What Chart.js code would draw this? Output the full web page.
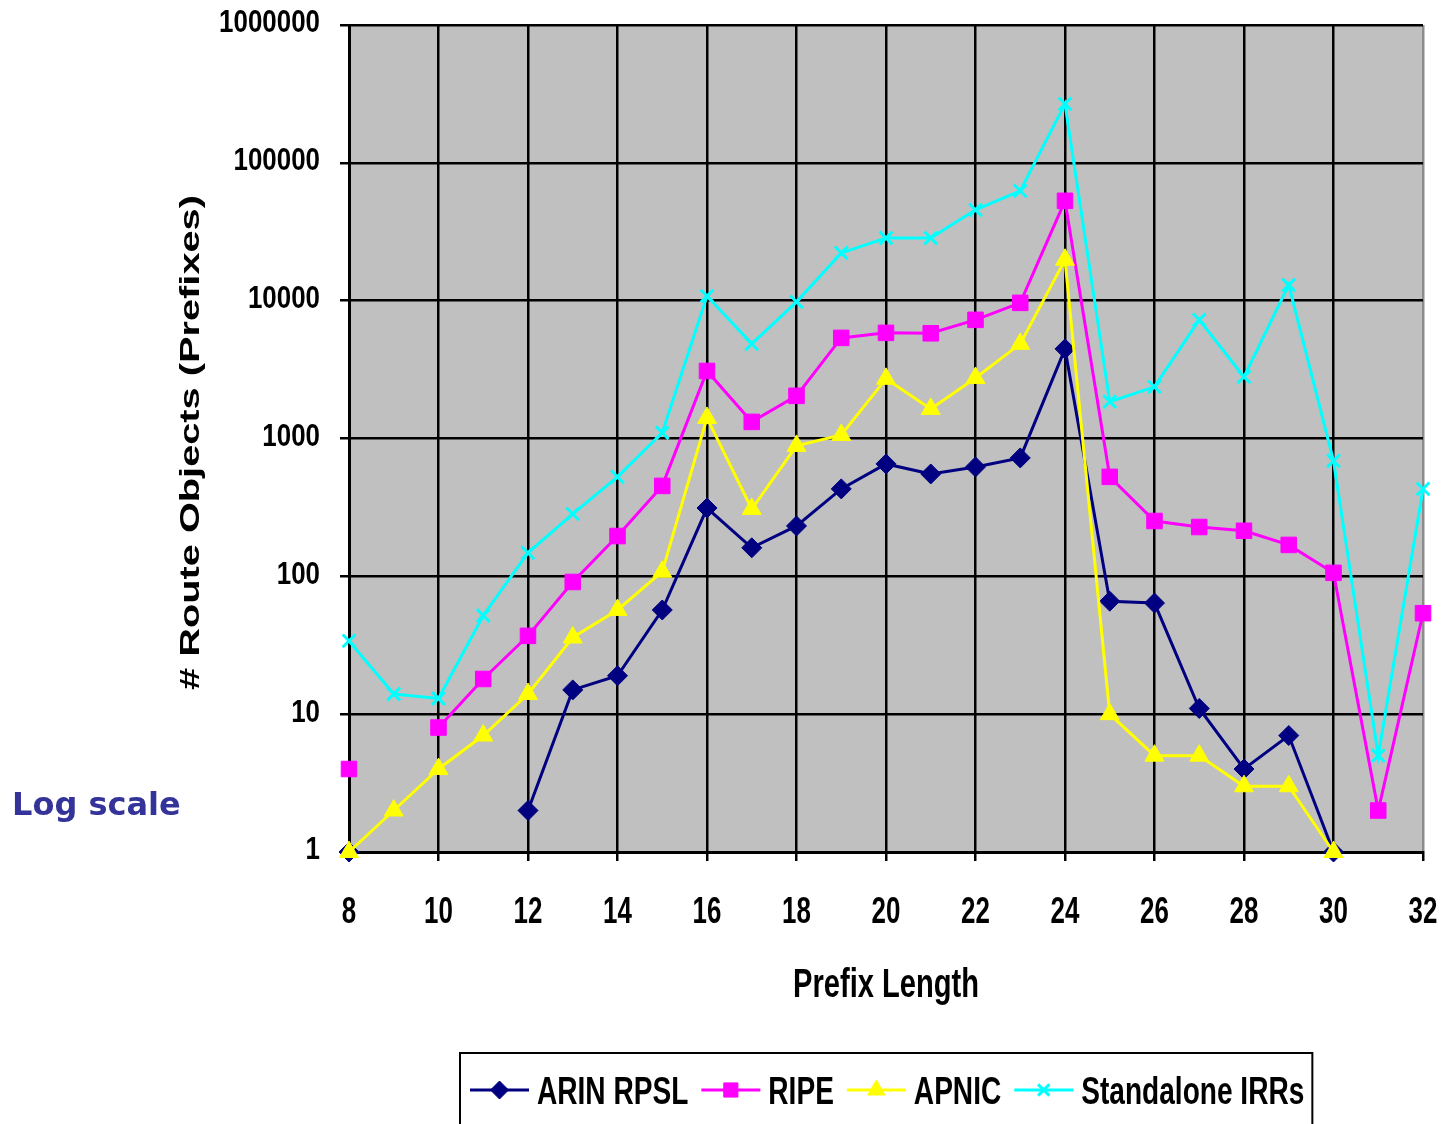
<!DOCTYPE html>
<html>
<head>
<meta charset="utf-8">
<script src="https://cdn.jsdelivr.net/npm/chart.js@4.4.0/dist/chart.umd.min.js"></script>
<style>
  body { margin: 0; background: #fff; }
  #wrap { position: relative; width: 1441px; height: 1124px; overflow: hidden; }
  #logNote {
    position: absolute; left: 12px; top: 785px;
    font: bold 32px "DejaVu Sans", sans-serif; color: #333399; white-space: nowrap;
  }
</style>
</head>
<body>
<div id="wrap">
  <canvas id="prefixChart" width="1441" height="1124"></canvas>
  <div id="logNote">Log scale</div>
</div>
<script>
const prefixLengths = [8, 9, 10, 11, 12, 13, 14, 15, 16, 17, 18, 19, 20, 21, 22, 23, 24, 25, 26, 27, 28, 29, 30, 31, 32];

const arinRpsl = [1, null, null, null, 2, 15, 19, 57, 313, 161, 232, 431, 654, 553, 622, 723, 4470, 66, 64, 11, 4, 7, 1, null, null];
const ripe = [4, null, 8, 18, 37, 91, 196, 453, 3090, 1320, 2040, 5370, 5840, 5800, 7260, 9640, 53000, 527, 252, 228, 214, 169, 106, 2, 54];
const apnic = [1, 2, 4, 7, 14, 36, 57, 108, 1410, 308, 884, 1060, 2710, 1640, 2750, 4860, 19800, 10, 5, 5, 3, 3, 1, null, null];
const standalone = [34, 14, 13, 52, 148, 284, 527, 1100, 10800, 4860, 9800, 22200, 28500, 28500, 45600, 62600, 268000, 1850, 2370, 7260, 2800, 13000, 688, 5, 431];

const yTicks = [1, 10, 100, 1000, 10000, 100000, 1000000];

const xTitle = "Prefix Length";
const yTitle = "# Route Objects (Prefixes)";

const baseFont = '"Liberation Sans", Arial, sans-serif';

function toPoints(values) {
    return values.map((v, i) => ({ x: prefixLengths[i], y: v }));
}

// bold Arial-like text squeezed or stretched along its reading direction
function drawText(ctx, text, x, y, size, sx, align, rotate) {
    ctx.save();
    ctx.translate(x, y);
    if (rotate) ctx.rotate(rotate);
    ctx.scale(sx, 1);
    ctx.font = "bold " + size + "px " + baseFont;
    ctx.fillStyle = "#000";
    ctx.textAlign = align;
    ctx.textBaseline = "alphabetic";
    ctx.fillText(text, 0, size * 0.716 / 2);
    ctx.restore();
}

function textWidth(ctx, text, size, sx) {
    ctx.save();
    ctx.font = "bold " + size + "px " + baseFont;
    const w = ctx.measureText(text).width * sx;
    ctx.restore();
    return w;
}

// grey plot background
const plotBackground = {
    id: "plotBackground",
    beforeDraw(chart) {
        const { ctx, chartArea } = chart;
        ctx.save();
        ctx.fillStyle = "#C0C0C0";
        ctx.fillRect(chartArea.left, chartArea.top, chartArea.right - chartArea.left, chartArea.bottom - chartArea.top);
        ctx.restore();
    }
};

// condensed tick labels and axis titles, like the narrow font of the original
const axisText = {
    id: "axisText",
    afterDraw(chart) {
        const { ctx, chartArea } = chart;
        const xs = chart.scales.x, ys = chart.scales.y;

        ys.ticks.forEach(t => {
            drawText(ctx, String(t.value), chartArea.left - 29, ys.getPixelForValue(t.value) - 4, 32, 0.81, "right");
        });
        xs.ticks.forEach(t => {
            drawText(ctx, String(t.value), xs.getPixelForValue(t.value), 910, 37, 0.70, "center");
        });

        drawText(ctx, xTitle, (chartArea.left + chartArea.right) / 2, 982, 41, 0.71, "center");
        drawText(ctx, yTitle, 189, (chartArea.top + chartArea.bottom) / 2 + 4, 28, 1.42, "center", -Math.PI / 2);
    }
};

// boxed legend with line + marker samples
const boxedLegend = {
    id: "boxedLegend",
    afterDraw(chart) {
        const ctx = chart.ctx;
        const sets = chart.data.datasets;
        const lineLen = 59, gapAfterLine = 8, gapAfterText = 13, padL = 10, padR = 8;
        const size = 39, sx = 0.72;

        const widths = sets.map(ds => textWidth(ctx, ds.label, size, sx));
        let total = padL + padR;
        widths.forEach((w, i) => {
            total += lineLen + gapAfterLine + w + (i < widths.length - 1 ? gapAfterText : 0);
        });

        const cx = (chart.chartArea.left + chart.chartArea.right) / 2;
        const boxLeft = Math.round(cx - total / 2);
        const boxTop = 1053;
        const midY = 1090;

        ctx.save();
        ctx.fillStyle = "#fff";
        ctx.fillRect(boxLeft, boxTop, total, 90);
        ctx.lineWidth = 2;
        ctx.strokeStyle = "#000";
        ctx.strokeRect(boxLeft, boxTop, total, 90);

        let x = boxLeft + padL;
        sets.forEach((ds, i) => {
            ctx.strokeStyle = ds.borderColor;
            ctx.lineWidth = ds.borderWidth;
            ctx.beginPath();
            ctx.moveTo(x, midY);
            ctx.lineTo(x + lineLen, midY);
            ctx.stroke();

            ctx.fillStyle = ds.pointBackgroundColor;
            ctx.strokeStyle = ds.pointBorderColor;
            ctx.lineWidth = ds.pointBorderWidth;
            Chart.helpers.drawPoint(ctx, {
                pointStyle: ds.pointStyle,
                radius: ds.pointRadius - 1,
                borderWidth: ds.pointBorderWidth,
                rotation: 0
            }, x + lineLen / 2, midY);

            drawText(ctx, ds.label, x + lineLen + gapAfterLine, midY, size, sx, "left");
            x += lineLen + gapAfterLine + widths[i] + gapAfterText;
        });
        ctx.restore();
    }
};

function seriesStyle(color, style, radius, order) {
    return {
        borderColor: color,
        backgroundColor: color,
        borderWidth: 3,
        pointStyle: style,
        pointRadius: radius,
        pointHoverRadius: radius,
        pointBackgroundColor: color,
        pointBorderColor: color,
        pointBorderWidth: style === "crossRot" ? 3 : 1,
        tension: 0,
        spanGaps: false,
        clip: false,
        order: order
    };
}

const ctx = document.getElementById("prefixChart").getContext("2d");

new Chart(ctx, {
    type: "line",
    data: {
        datasets: [
            Object.assign({ label: "ARIN RPSL", data: toPoints(arinRpsl) }, seriesStyle("#000080", "rectRot", 10, 4)),
            Object.assign({ label: "RIPE", data: toPoints(ripe) }, seriesStyle("#FF00FF", "rect", 11, 3)),
            Object.assign({ label: "APNIC", data: toPoints(apnic) }, seriesStyle("#FFFF00", "triangle", 11, 2)),
            Object.assign({ label: "Standalone IRRs", data: toPoints(standalone) }, seriesStyle("#00FFFF", "crossRot", 9, 1))
        ]
    },
    options: {
        responsive: false,
        animation: false,
        layout: {
            padding: { top: 25, right: 18, bottom: 122, left: 0 }
        },
        plugins: {
            legend: { display: false },
            tooltip: { enabled: false }
        },
        scales: {
            x: {
                type: "linear",
                min: 8,
                max: 32,
                ticks: { stepSize: 2, display: false },
                grid: {
                    color: c => (c.tick && c.tick.value === 32 ? "#8C8C8C" : "#000"),
                    lineWidth: 2.5,
                    tickLength: 9,
                    tickColor: "#000"
                },
                border: { color: "#000", width: 3 },
                afterFit: scale => { scale.height = 150; }
            },
            y: {
                type: "logarithmic",
                min: 1,
                max: 1000000,
                afterBuildTicks: scale => {
                    scale.ticks = yTicks.map(v => ({ value: v }));
                },
                ticks: { display: false },
                grid: {
                    color: "#000",
                    lineWidth: 2.5,
                    tickLength: 9,
                    tickColor: "#000"
                },
                border: { color: "#000", width: 3 },
                afterFit: scale => { scale.width = 349; }
            }
        }
    },
    plugins: [plotBackground, axisText, boxedLegend]
});
</script>
</body>
</html>
